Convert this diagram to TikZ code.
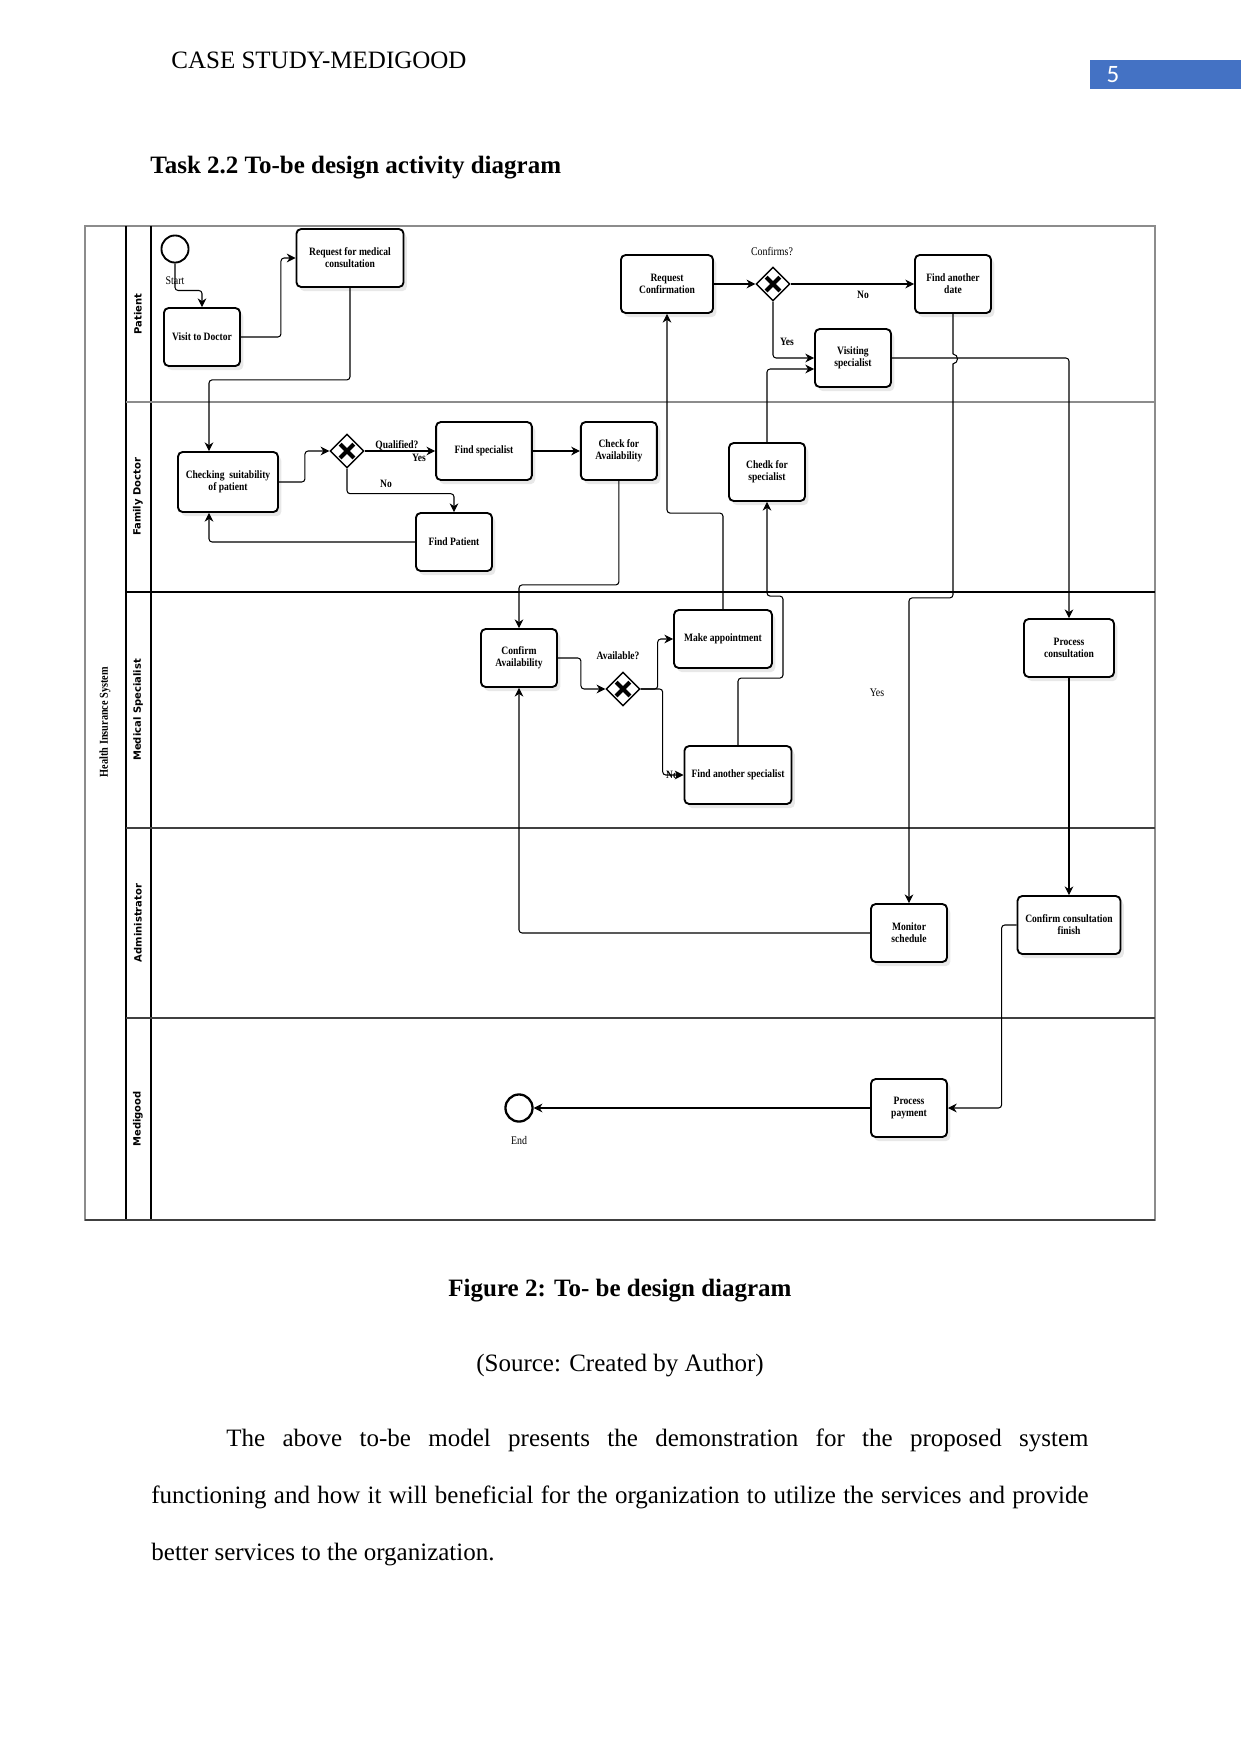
\documentclass[tikz,border=0pt]{standalone}
\usepackage{fontspec}
\setmainfont{Liberation Serif}
\newfontfamily\taskfamily[FakeStretch=0.85]{Liberation Serif}
\newfontfamily\lanefamily{DejaVu Sans}
\newfontfamily\numfamily{Carlito}
\usepackage{xcolor}
\usepackage{tikz}
\usetikzlibrary{arrows.meta,calc,positioning,shapes.geometric,shadows}
\definecolor{pageblue}{HTML}{4472C4}

\begin{document}
\begin{tikzpicture}[
      x=0.48pt, y=-0.48pt,
      task/.style={draw, line width=0.9pt, rounded corners=2.2pt, fill=white,
        minimum width=36.5pt, minimum height=27.8pt, inner sep=1pt, align=center,
        font=\taskfamily\bfseries\fontsize{5.4}{5.8}\selectfont,
        drop shadow={shadow xshift=1.6pt, shadow yshift=-2pt, opacity=0.18}},
      gateway/.style={diamond, aspect=1, draw, line width=0.7pt, fill=white,
        minimum width=16.3pt, minimum height=16.3pt, inner sep=0pt,
        path picture={\draw[line width=1.9pt]
          ([shift={(-3.3pt,-3.3pt)}]path picture bounding box.center) --
          ([shift={(3.3pt,3.3pt)}]path picture bounding box.center)
          ([shift={(-3.3pt,3.3pt)}]path picture bounding box.center) --
          ([shift={(3.3pt,-3.3pt)}]path picture bounding box.center);}},
      event/.style={circle, draw, line width=0.9pt, fill=white,
        minimum size=13pt, inner sep=0pt},
      tag/.style={inner sep=0pt, font=\taskfamily\bfseries\fontsize{5.4}{5.8}\selectfont},
      plaintag/.style={tag, font=\taskfamily\fontsize{5.6}{6}\selectfont},
      lanetitle/.style={rotate=90, inner sep=0pt,
        font=\lanefamily\bfseries\fontsize{4.8}{5}\selectfont},
      pooltitle/.style={rotate=90, inner sep=0pt,
        font=\taskfamily\bfseries\fontsize{5.8}{6}\selectfont},
      pagetext/.style={inner sep=0pt, font=\fontsize{12}{14}\selectfont},
      arrow/.style={-{Stealth[length=4.2pt,width=4.2pt]}, line width=0.5pt,
        rounded corners=1.5pt}
    ]
    \useasboundingbox (0,0) rectangle (1241,1754);

    \node[pagetext, anchor=base west] (header) at (171,68) {CASE STUDY-MEDIGOOD};
    \fill[pageblue] (1090,60) rectangle (1241,89);
    \node[pagetext, text=white, font=\numfamily\fontsize{12}{14}\selectfont] (pagenum) at (1113,75) {5};
    \node[pagetext, anchor=base west, font=\bfseries\fontsize{12}{14}\selectfont] (heading) at (150,173)
      {Task 2.2 To-be design activity diagram};

    \draw[black!45, line width=0.5pt] (85,226) rectangle (1155,1220);
    \draw[line width=0.5pt] (126,226) -- (126,1220);
    \draw[line width=0.5pt] (151,226) -- (151,1220);
    \draw[black!45, line width=0.5pt] (126,402) -- (1155,402);
    \draw[line width=0.5pt] (126,592) -- (1155,592);
    \draw[black!75, line width=0.9pt] (126,828) -- (1155,828);
    \draw[black!75, line width=0.9pt] (126,1018) -- (1155,1018);
    \draw[black!75, line width=1pt] (85,1220) -- (1155,1220);

    \node[pooltitle] (pool) at (105,722) {Health Insurance System};
    \node[lanetitle] (lanepatient) at (138,314) {Patient};
    \node[lanetitle] (lanedoctor) at (138,497) {Family Doctor};
    \node[lanetitle] (lanespecialist) at (138,710) {Medical Specialist};
    \node[lanetitle] (laneadmin) at (138,923) {Administrator};
    \node[lanetitle] (lanemedigood) at (138,1119) {Medigood};

    \node[event] (start) at (175,249) {};
    \node[task] (visit) at (202,337) {Visit to Doctor};
    \node[task, minimum width=51.4pt] (reqcons) at (350,258) {Request for medical\\consultation};
    \node[task, minimum width=48pt, minimum height=28.8pt] (checkfit) at (228,482)
      {Checking\ \ suitability\\of patient};
    \node[gateway] (gwqual) at (347,451) {};
    \node[task, minimum width=46pt] (findspec) at (484,451) {Find specialist};
    \node[task] (findpat) at (454,542) {Find Patient};
    \node[task, right=22.6pt of findspec] (checkavail) {Check for\\Availability};
    \node[task, minimum width=44.2pt] (reqconf) at (667,284) {Request\\Confirmation};
    \node[gateway] (gwconf) at (773,284) {};
    \node[task] (anotherdate) at (953,284) {Find another\\date};
    \node[task] (visiting) at (853,358) {Visiting\\specialist};
    \node[task] (checkspec) at (767,472) {Chedk for\\specialist};
    \node[task] (confavail) at (519,658) {Confirm\\Availability};
    \node[gateway] (gwavail) at (623,689) {};
    \node[task, minimum width=47pt] (makeappt) at (723,639) {Make appointment};
    \node[task, minimum width=51.4pt] (anotherspec) at (738,775) {Find another specialist};
    \node[task, minimum width=43.2pt] (proccons) at (1069,648) {Process\\consultation};
    \node[task] (monitor) at (909,933) {Monitor\\schedule};
    \node[task, minimum width=49.4pt] (confirmfin) at (1069,925) {Confirm consultation\\finish};
    \node[task] (payment) at (909,1108) {Process\\payment};
    \node[event, line width=1.1pt] (endev) at (519,1108) {};

    \node[plaintag] (startlabel) at (175,281) {Start};
    \node[plaintag] (endlabel) at (519,1140) {End};
    \node[tag] (qualified) at (397,445) {Qualified?};
    \node[tag] (qualyes) at (419,458) {Yes};
    \node[tag] (qualno) at (386,484) {No};
    \node[plaintag] (confirms) at (772,251) {Confirms?};
    \node[tag] (confno) at (863,295) {No};
    \node[tag] (confyes) at (787,342) {Yes};
    \node[tag] (available) at (618,656) {Available?};
    \node[tag] (availno) at (672,775) {No};
    \node[plaintag] (dateyes) at (877,693) {Yes};

    \draw[arrow] (start.south) -- ++(0,27) -| (visit.north);
    \draw[arrow] (visit.east) -- ++(40,0) |- (reqcons.west);
    \draw[arrow] (reqcons.south) -- ++(0,92) -| ($(checkfit.north)+(-19,0)$);
    \draw[arrow] (checkfit.east) -- ++(26,0) |- (gwqual.west);
    \draw[arrow] (gwqual.east) -- (findspec.west);
    \draw[arrow] (gwqual.south) -- ++(0,25) -| (findpat.north);
    \draw[arrow] (findpat.west) -| ($(checkfit.south)+(-19,0)$);
    \draw[arrow] (findspec.east) -- (checkavail.west);
    \draw[arrow] (checkavail.south) -- ++(0,104) -| (confavail.north);
    \draw[arrow] (confavail.east) -- ++(23,0) |- (gwavail.west);
    \draw[arrow] (gwavail.east) -- ++(17,0) |- (makeappt.west);
    \draw[arrow] (gwavail.east) -- ++(22,0) |- (anotherspec.west);
    \draw[arrow] (makeappt.north) -- ++(0,-96) -| (reqconf.south);
    \draw[arrow] (reqconf.east) -- (gwconf.west);
    \draw[arrow] (gwconf.east) -- (anotherdate.west);
    \draw[arrow] (gwconf.south) |- (visiting.west);
    \draw[arrow] (checkspec.north) |- ($(visiting.west)+(0,11)$);
    \draw[arrow] (anotherspec.north) -- ++(0,-67) -- ++(45,0) -- ++(0,-82) -| (checkspec.south);
    \draw[arrow, sharp corners] (anotherdate.south) -- ++(0,40)
      .. controls +(6,1) and +(6,-1) .. ++(0,10)
      [rounded corners=1.5pt] -- ++(0,234) -| (monitor.north);
    \draw[arrow] (visiting.east) -| (proccons.north);
    \draw[arrow] (proccons.south) -- (confirmfin.north);
    \draw[arrow] (confirmfin.west) -- ++(-15,0) |- (payment.east);
    \draw[arrow] (payment.west) -- (endev.east);
    \draw[arrow] (monitor.west) -| (confavail.south);

    \node[pagetext, anchor=base, font=\bfseries\fontsize{12}{14}\selectfont] (caption) at (620,1296)
      {Figure 2: To- be design diagram};
    \node[pagetext, anchor=base] (source) at (620,1371) {(Source: Created by Author)};
    \node[pagetext, anchor=base west] (line1) at (226,1446)
      {\makebox[413.8pt][s]{The above to-be model presents the demonstration for the proposed system}};
    \node[pagetext, anchor=base west] (line2) at (151,1503)
      {\makebox[449.8pt][s]{functioning and how it will beneficial for the organization to utilize the services and provide}};
    \node[pagetext, anchor=base west] (line3) at (151,1560) {better services to the organization.};
  \end{tikzpicture}
\end{document}
